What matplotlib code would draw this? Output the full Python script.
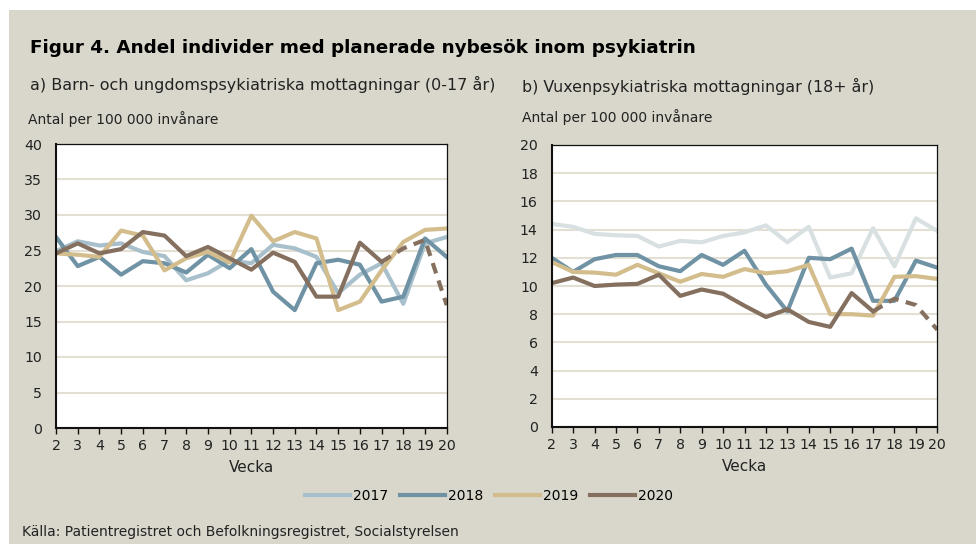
import matplotlib
matplotlib.use('Agg')
import matplotlib.pyplot as plt
from matplotlib.patches import Rectangle

plt.rcParams['font.family'] = ['DejaVu Sans']

# veckor
weeks = list(range(2, 21))

# a) barn och unga (0-17 år)
barn_2017 = [24.9, 26.3, 25.7, 26.0, 24.8, 24.2, 20.8, 21.8, 23.6, 23.2, 25.8, 25.3, 24.1, 19.0, 21.6, 23.2, 17.5, 26.0, 26.9]
barn_2018 = [26.9, 22.8, 24.1, 21.6, 23.5, 23.2, 21.9, 24.4, 22.5, 25.2, 19.2, 16.6, 23.2, 23.7, 23.0, 17.8, 18.5, 26.7, 24.1]
barn_2019 = [24.6, 24.4, 24.1, 27.8, 27.1, 22.2, 23.9, 24.8, 23.3, 29.9, 26.3, 27.6, 26.7, 16.6, 17.8, 22.2, 26.2, 27.9, 28.1]
barn_2020 = [24.6, 26.0, 24.6, 25.2, 27.6, 27.1, 24.2, 25.5, 23.9, 22.3, 24.7, 23.4, 18.5, 18.5, 26.1, 23.4, 25.3, 26.5, 17.3]

# b) vuxna (18+ år)
vux_2017 = [14.4, 14.2, 13.7, 13.6, 13.55, 12.8, 13.2, 13.1, 13.55, 13.8, 14.3, 13.1, 14.2, 10.6, 10.9, 14.1, 11.4, 14.8, 13.9]
vux_2018 = [12.0, 11.0, 11.9, 12.2, 12.2, 11.4, 11.05, 12.2, 11.5, 12.5, 10.1, 8.2, 12.0, 11.9, 12.65, 8.95, 8.95, 11.8, 11.3]
vux_2019 = [11.7, 11.0, 10.95, 10.8, 11.5, 10.9, 10.3, 10.85, 10.65, 11.2, 10.9, 11.05, 11.5, 8.0, 8.0, 7.9, 10.65, 10.7, 10.5]
vux_2020 = [10.2, 10.6, 10.0, 10.1, 10.15, 10.8, 9.3, 9.75, 9.45, 8.6, 7.8, 8.35, 7.45, 7.1, 9.5, 8.2, 9.1, 8.65, 6.9]

# sista veckorna 2020 är preliminära (streckade)
prelim_from = 17

years = ['2017', '2018', '2019', '2020']
colors = ['#a7c0cc', '#6f93a5', '#d4bd8c', '#85705f']
bg = '#d9d7cb'
grid_c = '#e3e0d3'
txt = '#222222'

fig = plt.figure(figsize=(9.76, 5.44), dpi=100, facecolor='white')
fig.patches.append(Rectangle((9/976, 0), 1, 1 - 10/544, transform=fig.transFigure,
                             facecolor=bg, edgecolor='none', zorder=-10))

ax1 = fig.add_axes([56/976, 1 - 428/544, 390.7/976, 284/544])
ax2 = fig.add_axes([551.7/976, 1 - 427/544, 385.6/976, 282/544])


def draw(ax, series, ymax, ystep, cols):
    handles = []
    for vals, c, lab in zip(series, cols, years):
        if lab == '2020':
            i = weeks.index(prelim_from)
            h, = ax.plot(weeks[:i + 1], vals[:i + 1], color=c, lw=3, label=lab)
            ax.plot(weeks[i:], vals[i:], color=c, lw=3, ls=(0, (2.6, 1.8)))
        else:
            h, = ax.plot(weeks, vals, color=c, lw=3, label=lab)
        handles.append(h)
    ax.set_xlim(2, 20)
    ax.set_ylim(0, ymax)
    ax.set_xticks(weeks)
    ax.set_yticks(range(0, ymax + 1, ystep))
    ax.grid(axis='y', color=grid_c, lw=1.5)
    ax.set_axisbelow(True)
    for s in ax.spines.values():
        s.set_color('#111111')
        s.set_linewidth(0.9)
    ax.spines['left'].set_linewidth(1.5)
    ax.spines['bottom'].set_linewidth(1.5)
    ax.tick_params(axis='y', length=0, pad=10, labelsize=10.2, labelcolor=txt)
    ax.tick_params(axis='x', length=4, width=1, direction='out', pad=4, labelsize=10.2,
                   colors='#111111', labelcolor=txt)
    ax.set_xlabel('Vecka', fontsize=11, color=txt, labelpad=5)
    return handles


handles = draw(ax1, [barn_2017, barn_2018, barn_2019, barn_2020], 40, 5, colors)
draw(ax2, [vux_2017, vux_2018, vux_2019, vux_2020], 20, 2,
     ['#d8e0e2'] + colors[1:])

fig.text(30/976, 1 - 48/544, 'Figur 4. Andel individer med planerade nybesök inom psykiatrin',
         fontsize=13.2, fontweight='bold', color='black', va='center')
fig.text(30/976, 1 - 84/544, 'a) Barn- och ungdomspsykiatriska mottagningar (0-17 år)',
         fontsize=11.5, color=txt, va='center')
fig.text(522/976, 1 - 86/544, 'b) Vuxenpsykiatriska mottagningar (18+ år)',
         fontsize=11.4, color=txt, va='center')
fig.text(28/976, 1 - 119/544, 'Antal per 100 000 invånare', fontsize=10, color=txt, va='center')
fig.text(522/976, 1 - 117/544, 'Antal per 100 000 invånare', fontsize=10, color=txt, va='center')
fig.text(22/976, 1 - 532/544, 'Källa: Patientregistret och Befolkningsregistret, Socialstyrelsen',
         fontsize=10, color=txt, va='center')

fig.legend(handles=handles, labels=years, loc='center', bbox_to_anchor=(489/976, 1 - 496/544),
           ncol=4, frameon=False, fontsize=10, handlelength=3.2, handletextpad=0.2,
           columnspacing=0.9)

fig.savefig('out.png', dpi=100, facecolor='white')
